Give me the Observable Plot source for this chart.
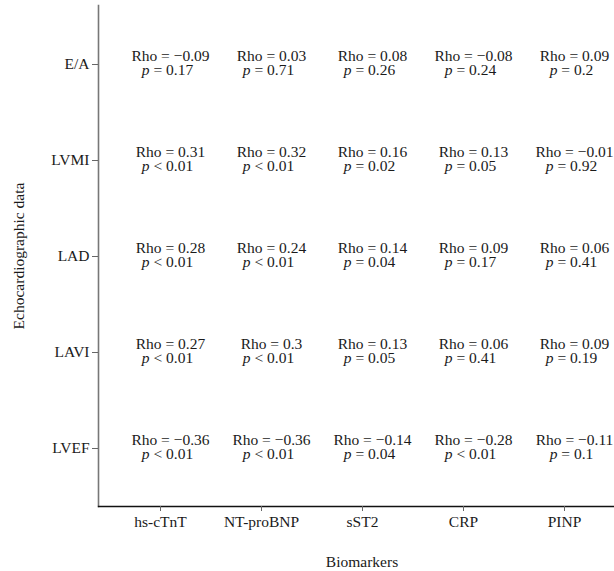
<!DOCTYPE html>
<html><head><meta charset="utf-8">
<script src="https://cdn.jsdelivr.net/npm/d3@7"></script>
<script src="https://cdn.jsdelivr.net/npm/@observablehq/plot@0.6"></script>
<style>
html,body{margin:0;padding:0;background:#fff;overflow:hidden;}
</style></head><body><div id="chart"></div>
<script>
const biomarkers = ["hs-cTnT", "NT-proBNP", "sST2", "CRP", "PINP"];
const echoParams = ["E/A", "LVMI", "LAD", "LAVI", "LVEF"];
const rhoValues = [
  [-0.09, 0.03, 0.08, -0.08, 0.09],
  [0.31, 0.32, 0.16, 0.13, -0.01],
  [0.28, 0.24, 0.14, 0.09, 0.06],
  [0.27, 0.3, 0.13, 0.06, 0.09],
  [-0.36, -0.36, -0.14, -0.28, -0.11]
];
const pValues = [
  ["= 0.17", "= 0.71", "= 0.26", "= 0.24", "= 0.2"],
  ["< 0.01", "< 0.01", "= 0.02", "= 0.05", "= 0.92"],
  ["< 0.01", "< 0.01", "= 0.04", "= 0.17", "= 0.41"],
  ["< 0.01", "< 0.01", "= 0.05", "= 0.41", "= 0.19"],
  ["< 0.01", "< 0.01", "= 0.04", "< 0.01", "= 0.1"]
];

const FONT = "Liberation Serif";
const FS = 15.5;
const INK = "#1a1a1a";

const cells = [];
echoParams.forEach((e, i) => biomarkers.forEach((b, j) =>
  cells.push({echo: e, marker: b, rho: rhoValues[i][j], p: pValues[i][j]})));

const fmt = v => (v < 0 ? "\u2212" : "") + String(Math.abs(v));
const rhoLabel = d => "Rho = " + fmt(d.rho);

const ctx = document.createElement("canvas").getContext("2d");
function tw(s, italic) {
  ctx.font = (italic ? "italic " : "") + FS + "px '" + FONT + "'";
  return ctx.measureText(s).width;
}

const RHO_DX = 10, RHO_DY = -8, P_DX = 7, P_DY = 6;
const txt = {x: "marker", y: "echo", fill: INK, fontSize: FS, fontFamily: FONT};

const pMarks = cells.flatMap(d => {
  const wp = tw("p", true), ws = tw(" ", false), wr = tw(d.p, false);
  const w = wp + ws + wr;
  const start = P_DX - w / 2;
  return [
    Plot.text([d], {...txt, text: () => "p", fontStyle: "italic", textAnchor: "start", dx: start, dy: P_DY}),
    Plot.text([d], {...txt, text: dd => dd.p, textAnchor: "start", dx: start + wp + ws, dy: P_DY})
  ];
});

const chart = Plot.plot({
  width: 614, height: 571,
  marginLeft: 98, marginRight: -11, marginTop: 5, marginBottom: 65,
  style: {fontFamily: FONT, fontSize: FS + "px", color: INK, background: "#fff"},
  x: {type: "point", domain: biomarkers, padding: 0.6},
  y: {type: "point", domain: echoParams, padding: 0.6},
  marks: [
    Plot.frame({anchor: "left", stroke: "#777", strokeWidth: 1.6}),
    Plot.frame({anchor: "bottom", stroke: "#111", strokeWidth: 1.3}),
    Plot.axisX({tickSize: 5, tickPadding: 4, stroke: "#666", fill: INK, fontSize: FS, label: "Biomarkers", labelAnchor: "center", labelOffset: 60}),
    Plot.axisY({tickSize: 6, tickPadding: 3, stroke: "#666", fill: INK, fontSize: FS, label: "Echocardiographic data", labelAnchor: "center", labelOffset: 86}),
    Plot.text(cells, {...txt, text: rhoLabel, dx: RHO_DX, dy: RHO_DY}),
    ...pMarks
  ]
});
document.getElementById("chart").appendChild(chart);
</script></body></html>
